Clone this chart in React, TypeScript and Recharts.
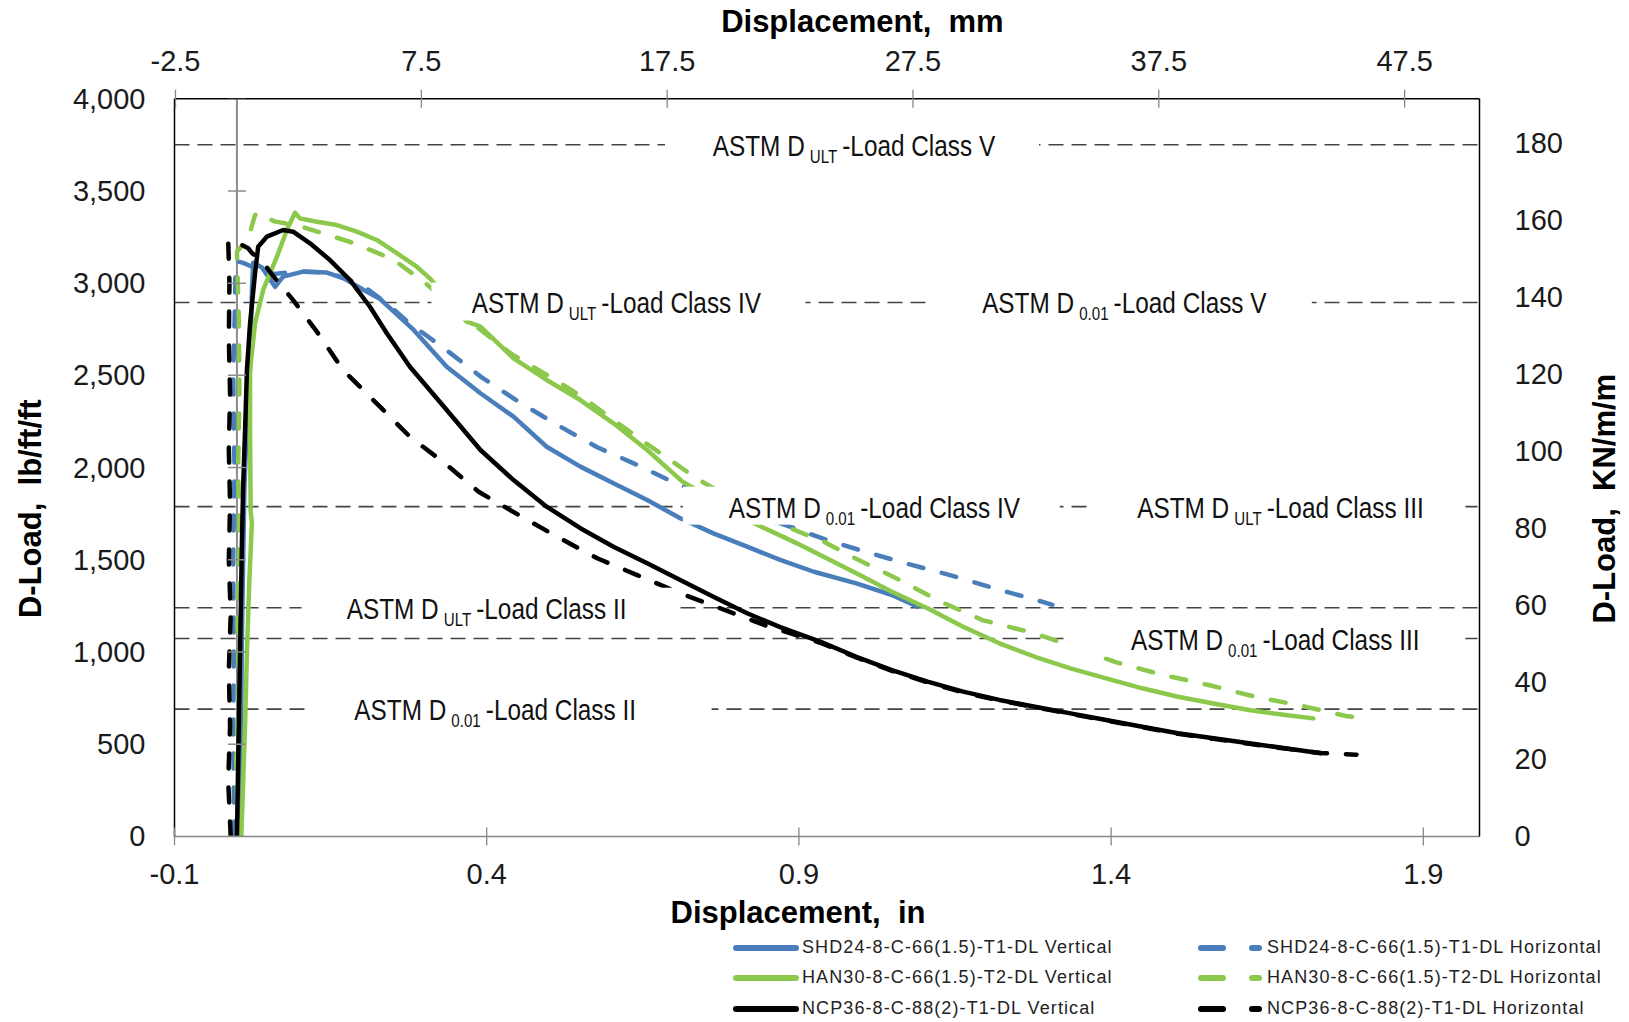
import React from "react";
import { ComposedChart, Line, Scatter, XAxis, YAxis, Label } from "recharts";

// axis ticks
const inchTicks = [-0.1, 0.4, 0.9, 1.4, 1.9];
const mmTicks = [-2.5, 7.5, 17.5, 27.5, 37.5, 47.5];
const lbTicks = [0, 500, 1000, 1500, 2000, 2500, 3000, 3500, 4000];
const knTicks = [0, 20, 40, 60, 80, 100, 120, 140, 160, 180];

const X_MIN = -0.1;
const X_MAX = 1.99;
const LB_MAX = 4000;
const KN_PER_LB = 0.04788;
const MM_PER_IN = 25.4;

// [displacement in, D-load lb/ft/ft]
const shdVertical: [number, number][] = [
  [0.003, 0], [0.005, 300], [0.007, 700], [0.008, 1100], [0.01, 1500], [0.012, 1900],
  [0.016, 2250], [0.021, 2530], [0.024, 2960], [0.026, 3110], [0.04, 3085], [0.061, 2980],
  [0.074, 3035], [0.106, 3062], [0.144, 3057], [0.171, 3026], [0.203, 2963], [0.229, 2915],
  [0.283, 2746], [0.336, 2547], [0.39, 2403], [0.443, 2276], [0.496, 2113], [0.55, 2005],
  [0.603, 1915], [0.657, 1824], [0.71, 1725], [0.763, 1643], [0.817, 1571], [0.87, 1499],
  [0.924, 1435], [0.992, 1372], [1.049, 1309], [1.09, 1245],
];
const shdHorizontal: [number, number][] = [
  [-0.004, 0], [-0.006, 500], [-0.005, 1000], [-0.006, 1500], [-0.004, 2000], [-0.006, 2500],
  [-0.003, 2900], [-0.002, 3120], [0.01, 3110], [0.03, 3080], [0.06, 3050], [0.1, 3065],
  [0.15, 3055], [0.2, 2990], [0.24, 2890], [0.275, 2786], [0.332, 2646], [0.392, 2489],
  [0.451, 2357], [0.513, 2231], [0.577, 2110], [0.641, 2014], [0.705, 1911], [0.78, 1815],
  [0.86, 1710], [0.941, 1612], [0.997, 1553], [1.067, 1484], [1.142, 1417], [1.213, 1345],
  [1.289, 1273], [1.306, 1255],
];
const hanVertical: [number, number][] = [
  [0.007, 0], [0.01, 300], [0.013, 600], [0.016, 1000], [0.02, 1400], [0.024, 1700],
  [0.022, 1760], [0.021, 2200], [0.021, 2530], [0.029, 2782], [0.042, 2963], [0.064, 3143],
  [0.08, 3288], [0.093, 3382], [0.101, 3351], [0.128, 3333], [0.16, 3315], [0.192, 3279],
  [0.224, 3234], [0.256, 3162], [0.288, 3089], [0.309, 3026], [0.368, 2791], [0.39, 2764],
  [0.443, 2592], [0.496, 2475], [0.55, 2366], [0.603, 2240], [0.657, 2095], [0.713, 1925],
  [0.828, 1698], [0.897, 1589], [0.934, 1526], [0.992, 1427], [1.049, 1327], [1.106, 1237],
  [1.163, 1137], [1.221, 1047], [1.278, 974], [1.335, 911], [1.392, 857], [1.45, 803],
  [1.507, 757], [1.564, 721], [1.621, 685], [1.679, 658], [1.724, 640],
];
const hanHorizontal: [number, number][] = [
  [0.002, 0], [-0.001, 400], [0.003, 800], [0.001, 1200], [0.004, 1600], [0.002, 2000],
  [0.004, 2400], [0.003, 2800], [0.0, 3170], [0.018, 3243], [0.029, 3369], [0.04, 3382],
  [0.05, 3351], [0.06, 3335], [0.1, 3310], [0.181, 3224], [0.249, 3131], [0.299, 3008],
  [0.37, 2800], [0.44, 2615], [0.5, 2495], [0.55, 2390], [0.6, 2265], [0.66, 2120],
  [0.739, 1935], [0.85, 1720], [0.94, 1598], [0.99, 1508], [1.058, 1396], [1.127, 1273],
  [1.194, 1173], [1.272, 1106], [1.324, 1048], [1.407, 945], [1.48, 878], [1.556, 821],
  [1.631, 757], [1.707, 707], [1.776, 653], [1.805, 640],
];
const ncpVertical: [number, number][] = [
  [0.0, 0], [0.002, 400], [0.004, 800], [0.006, 1200], [0.008, 1600], [0.01, 1900],
  [0.013, 2200], [0.016, 2529], [0.021, 2782], [0.029, 3053], [0.034, 3197], [0.048, 3252],
  [0.074, 3288], [0.09, 3279], [0.117, 3216], [0.149, 3125], [0.181, 3017], [0.213, 2872],
  [0.24, 2728], [0.277, 2547], [0.336, 2312], [0.39, 2095], [0.443, 1932], [0.496, 1788],
  [0.55, 1671], [0.603, 1571], [0.657, 1481], [0.71, 1390], [0.763, 1300], [0.817, 1210],
  [0.87, 1135], [0.934, 1056], [0.992, 974], [1.049, 902], [1.106, 839], [1.163, 785],
  [1.221, 740], [1.278, 703], [1.335, 667], [1.392, 631], [1.45, 595], [1.507, 559],
  [1.564, 532], [1.621, 505], [1.679, 478], [1.736, 451],
];
const ncpHorizontal: [number, number][] = [
  [-0.01, 0], [-0.014, 300], [-0.011, 600], [-0.013, 900], [-0.01, 1200], [-0.013, 1500],
  [-0.011, 1800], [-0.013, 2100], [-0.011, 2400], [-0.013, 2700], [-0.012, 3000], [-0.014, 3234],
  [0.0, 3220], [0.018, 3189], [0.025, 3160], [0.037, 3134], [0.058, 3038], [0.09, 2908],
  [0.128, 2737], [0.17, 2529], [0.229, 2330], [0.277, 2167], [0.333, 2023], [0.387, 1869],
  [0.451, 1743], [0.513, 1625], [0.577, 1508], [0.641, 1417], [0.71, 1318], [0.774, 1237],
  [0.85, 1140], [0.934, 1050], [0.992, 970], [1.049, 898], [1.106, 835], [1.163, 781],
  [1.221, 737], [1.278, 700], [1.335, 664], [1.392, 628], [1.45, 592], [1.507, 556],
  [1.564, 529], [1.621, 502], [1.679, 476], [1.736, 452], [1.793, 443],
];

const seriesNames = [
  "SHD24-8-C-66(1.5)-T1-DL Vertical",
  "SHD24-8-C-66(1.5)-T1-DL Horizontal",
  "HAN30-8-C-66(1.5)-T2-DL Vertical",
  "HAN30-8-C-66(1.5)-T2-DL Horizontal",
  "NCP36-8-C-88(2)-T1-DL Vertical",
  "NCP36-8-C-88(2)-T1-DL Horizontal",
];

// ASTM reference loads, lb/ft/ft
const refLoads = [3750, 2895, 1788, 1240, 1073, 690];
const refLabels = [
  { load: 3750, sub: "ULT", cls: "V" },
  { load: 2895, sub: "ULT", cls: "IV" },
  { load: 2895, sub: "0.01", cls: "V" },
  { load: 1788, sub: "0.01", cls: "IV" },
  { load: 1788, sub: "ULT", cls: "III" },
  { load: 1240, sub: "ULT", cls: "II" },
  { load: 1073, sub: "0.01", cls: "III" },
  { load: 690, sub: "0.01", cls: "II" },
];
// label box centre (in), box width (px), text shift inside box (px)
const labelPlace = [
  { at: 0.985, w: 374, dx: 2 },
  { at: 0.611, w: 374, dx: -2 },
  { at: 1.418, w: 379, dx: 2 },
  { at: 1.016, w: 377, dx: 3 },
  { at: 1.668, w: 374, dx: 2 },
  { at: 0.403, w: 374, dx: -2 },
  { at: 1.647, w: 400, dx: 10 },
  { at: 0.436, w: 405, dx: -14 },
];

const BLUE = "#4A7EBB";
const GREEN = "#8CC84B";
const BLACK = "#000000";
const FONT = "'Liberation Sans', Arial, sans-serif";

const toPts = (arr: [number, number][]) => arr.map(([x, y]) => ({ x, y }));

const series = [
  { name: seriesNames[0], data: toPts(shdVertical), color: BLUE, dashed: false },
  { name: seriesNames[1], data: toPts(shdHorizontal), color: BLUE, dashed: true },
  { name: seriesNames[2], data: toPts(hanVertical), color: GREEN, dashed: false },
  { name: seriesNames[3], data: toPts(hanHorizontal), color: GREEN, dashed: true },
  { name: seriesNames[4], data: toPts(ncpVertical), color: BLACK, dashed: false },
  { name: seriesNames[5], data: toPts(ncpHorizontal), color: BLACK, dashed: true },
];

const fmtIn = (v: number) => v.toFixed(1);
const fmtLb = (v: number) => v.toLocaleString("en-US");

const BottomTick = (p: any) => (
  <g>
    <line x1={p.x} x2={p.x} y1={p.y - 9} y2={p.y + 9} stroke="#868686" strokeWidth={1.3} />
    <text x={p.x} y={p.y + 48} textAnchor="middle" fontSize={29} fontFamily={FONT} fill="#1a1a1a">
      {fmtIn(p.payload.value)}
    </text>
  </g>
);
const TopTick = (p: any) => (
  <g>
    <line x1={p.x} x2={p.x} y1={p.y - 9} y2={p.y + 9} stroke="#868686" strokeWidth={1.3} />
    <text x={p.x} y={p.y - 28} textAnchor="middle" fontSize={29} fontFamily={FONT} fill="#1a1a1a">
      {fmtIn(p.payload.value)}
    </text>
  </g>
);
const LeftTick = (p: any) => (
  <text x={p.x - 29} y={p.y + 10} textAnchor="end" fontSize={29} fontFamily={FONT} fill="#1a1a1a">
    {fmtLb(p.payload.value)}
  </text>
);
const RightTick = (p: any) => (
  <text x={p.x + 35} y={p.y + 10} textAnchor="start" fontSize={29} fontFamily={FONT} fill="#1a1a1a">
    {p.payload.value}
  </text>
);

const title = (text: string, dx: number, dy: number, rotate: boolean) => (props: any) => {
  const vb = props.viewBox;
  const cx = vb.x + dx;
  const cy = vb.y + dy;
  return (
    <text
      x={cx}
      y={cy}
      textAnchor="middle"
      dominantBaseline="central"
      fontSize={31}
      fontWeight="bold"
      fontFamily={FONT}
      fill="#000"
      style={{ whiteSpace: "pre" }}
      transform={rotate ? `rotate(-90 ${cx} ${cy})` : undefined}
    >
      {text}
    </text>
  );
};

const RefLabel = (p: any) => {
  const { cx, cy, payload } = p;
  const w = payload.w;
  const tx = cx + payload.dx;
  return (
    <g>
      <rect x={cx - w / 2} y={cy - 20} width={w} height={38} fill="#fff" />
      <g transform={`translate(${tx} 0) scale(0.84 1) translate(${-tx} 0)`}>
        <text x={tx} y={cy + 11} textAnchor="middle" fontSize={29} fontFamily={FONT} fill="#111">
          ASTM D
          <tspan fontSize={18} dx={6} dy={7}>{payload.sub}</tspan>
          <tspan dx={6} dy={-7}>-Load Class {payload.cls}</tspan>
        </text>
      </g>
    </g>
  );
};

const ZeroTick = (p: any) => (
  <line x1={p.cx - 9} x2={p.cx + 9} y1={p.cy} y2={p.cy} stroke="#8c8c8c" strokeWidth={1.5} />
);

const LegendSample = ({ color, dashed }: { color: string; dashed: boolean }) => (
  <svg width={68} height={12} style={{ display: "block" }}>
    {dashed ? (
      <>
        <line x1={4} x2={26} y1={6} y2={6} stroke={color} strokeWidth={6} strokeLinecap="round" />
        <line x1={55} x2={62} y1={6} y2={6} stroke={color} strokeWidth={6} strokeLinecap="round" />
      </>
    ) : (
      <line x1={4} x2={64} y1={6} y2={6} stroke={color} strokeWidth={6} strokeLinecap="round" />
    )}
  </svg>
);

export default function App() {
  const refData = refLoads.map((v) => [
    { x: X_MIN, y: v },
    { x: X_MAX, y: v },
  ]);
  const labelData = refLabels.map((l, i) => ({
    x: labelPlace[i].at,
    y: l.load,
    sub: l.sub,
    cls: l.cls,
    w: labelPlace[i].w,
    dx: labelPlace[i].dx,
  }));
  const zeroLine = [
    { x: 0, y: 0 },
    { x: 0, y: LB_MAX },
  ];
  const zeroTicks = lbTicks.map((v) => ({ x: 0, y: v }));
  // same span in mm, so the top axis has something to scale
  const mmSpan = [
    { x: X_MIN * MM_PER_IN, y: 0 },
    { x: X_MAX * MM_PER_IN, y: 0 },
  ];

  return (
    <div style={{ position: "absolute", left: 0, top: 0, width: 1629, height: 1022, background: "#fff" }}>
      <ComposedChart width={1629} height={1022} margin={{ top: 0, right: 0, bottom: 0, left: 0 }}>
        <XAxis
          xAxisId="in"
          dataKey="x"
          type="number"
          orientation="bottom"
          domain={[X_MIN, X_MAX]}
          ticks={inchTicks}
          interval={0}
          allowDataOverflow
          height={185.6}
          tickSize={0}
          tickMargin={0}
          tickLine={false}
          axisLine={{ stroke: "#868686", strokeWidth: 1.5 }}
          tick={BottomTick}
        >
          <Label content={title("Displacement,  in", 623.5, 76, false)} />
        </XAxis>
        <XAxis
          xAxisId="mm"
          dataKey="x"
          type="number"
          orientation="top"
          domain={[X_MIN * MM_PER_IN, X_MAX * MM_PER_IN]}
          ticks={mmTicks}
          interval={0}
          allowDataOverflow
          height={98.7}
          tickSize={0}
          tickMargin={0}
          tickLine={false}
          axisLine={{ stroke: "#000", strokeWidth: 1.5 }}
          tick={TopTick}
        >
          <Label content={title("Displacement,  mm", 687.9, 21, false)} />
        </XAxis>
        <YAxis
          yAxisId="lb"
          dataKey="y"
          type="number"
          orientation="left"
          domain={[0, LB_MAX]}
          ticks={lbTicks}
          interval={0}
          allowDataOverflow
          width={174.5}
          tickSize={0}
          tickMargin={0}
          tickLine={false}
          axisLine={{ stroke: "#000", strokeWidth: 1.5 }}
          tick={LeftTick}
        >
          <Label content={title("D-Load,  lb/ft/ft", 31, 410, true)} />
        </YAxis>
        <YAxis
          yAxisId="kn"
          type="number"
          orientation="right"
          domain={[0, LB_MAX * KN_PER_LB]}
          ticks={knTicks}
          interval={0}
          allowDataOverflow
          width={149.5}
          tickSize={0}
          tickMargin={0}
          tickLine={false}
          axisLine={{ stroke: "#000", strokeWidth: 1.5 }}
          tick={RightTick}
        >
          <Label content={title("D-Load,  KN/m/m", 125.5, 400, true)} />
        </YAxis>

        <Line
          xAxisId="mm"
          yAxisId="lb"
          data={mmSpan}
          dataKey="y"
          stroke="none"
          dot={false}
          activeDot={false}
          legendType="none"
          isAnimationActive={false}
        />
        {refData.map((d, i) => (
          <Line
            key={`ref${i}`}
            xAxisId="in"
            yAxisId="lb"
            data={d}
            dataKey="y"
            stroke="#444"
            strokeWidth={1.6}
            strokeDasharray="15 8"
            dot={false}
            activeDot={false}
            legendType="none"
            isAnimationActive={false}
          />
        ))}
        <Line
          xAxisId="in"
          yAxisId="lb"
          data={zeroLine}
          dataKey="y"
          stroke="#8c8c8c"
          strokeWidth={2}
          dot={false}
          activeDot={false}
          legendType="none"
          isAnimationActive={false}
        />
        <Scatter
          xAxisId="in"
          yAxisId="lb"
          data={zeroTicks}
          shape={ZeroTick}
          legendType="none"
          isAnimationActive={false}
        />
        {series.map((s) => (
          <Line
            key={s.name}
            name={s.name}
            xAxisId="in"
            yAxisId="lb"
            data={s.data}
            dataKey="y"
            type="linear"
            stroke={s.color}
            strokeWidth={4.5}
            strokeDasharray={s.dashed ? "15 19" : undefined}
            strokeLinecap="round"
            strokeLinejoin="round"
            dot={false}
            activeDot={false}
            isAnimationActive={false}
          />
        ))}
        <Scatter
          xAxisId="in"
          yAxisId="lb"
          data={labelData}
          shape={RefLabel}
          legendType="none"
          isAnimationActive={false}
        />
      </ComposedChart>

      {series.map((s, i) => {
        const col = i % 2;
        const row = Math.floor(i / 2);
        const left = col === 0 ? 732 : 1197;
        const top = [947.6, 977.7, 1008.8][row];
        return (
          <div
            key={s.name}
            style={{
              position: "absolute",
              left,
              top: top - 11,
              height: 22,
              display: "flex",
              alignItems: "center",
              fontFamily: FONT,
              fontSize: 18,
              letterSpacing: 1.1,
              color: "#222",
              whiteSpace: "nowrap",
            }}
          >
            <LegendSample color={s.color} dashed={s.dashed} />
            <span style={{ marginLeft: 2 }}>{s.name}</span>
          </div>
        );
      })}
    </div>
  );
}
